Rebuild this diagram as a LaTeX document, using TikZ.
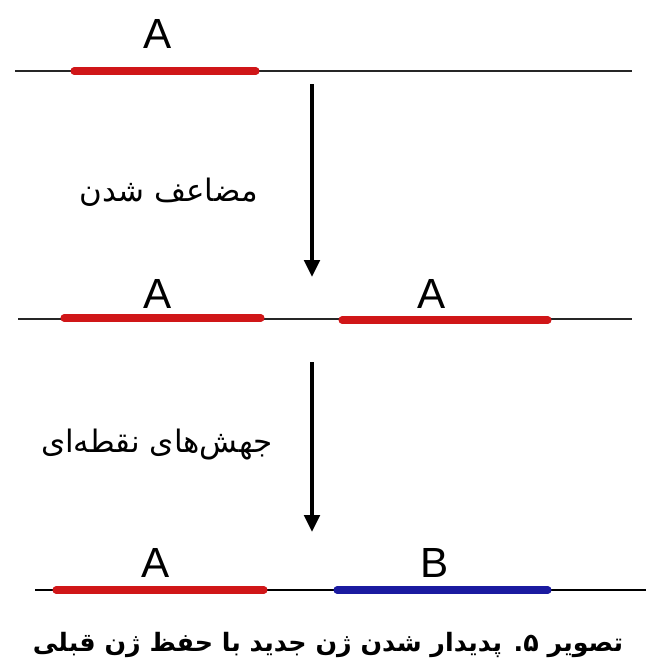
\documentclass[tikz,border=0pt]{standalone}
\usepackage{fontspec}
\setmainfont{Liberation Sans}
\newfontfamily\persianfont[Script=Arabic]{DejaVu Sans}
\TeXXeTstate=1
\usetikzlibrary{arrows.meta}

\definecolor{genered}{RGB}{208,22,24}
\definecolor{geneblue}{RGB}{26,26,160}

\begin{document}
\begin{tikzpicture}[
  x=0.025cm, y=-0.025cm,
  strand/.style={line width=1.3pt, black!85},
  gene/.style={line width=5pt, genered, line cap=round},
  newgene/.style={gene, geneblue},
  genename/.style={font=\fontsize{30}{34}\selectfont, inner sep=0pt},
  steplabel/.style={font=\persianfont\fontsize{22}{26}\selectfont, inner sep=0pt, anchor=east},
  >={Triangle[length=12pt,width=11pt]}
]
\useasboundingbox (0,0) rectangle (646,671);

% ancestral chromosome
\coordinate (s1l) at (15,71);   \coordinate (s1r) at (632,71);
\coordinate (a1l) at (74,71);   \coordinate (a1r) at (256,71);
\draw[strand] (s1l) -- (s1r);
\draw[gene] (a1l) -- (a1r);
\node[genename] (A1) at (158,34) {A};

% duplication
\coordinate (d1top) at (312,84); \coordinate (d1bot) at (312,277);
\draw[->, line width=2.6pt] (d1top) -- (d1bot);
\node[steplabel] (duplab) at (258,192) {\beginR مضاعف شدن\endR};

% after duplication
\coordinate (s2l) at (18,319);  \coordinate (s2r) at (632,319);
\coordinate (a2l) at (64,318);  \coordinate (a2r) at (261,318);
\coordinate (a3l) at (342,320); \coordinate (a3r) at (548,320);
\draw[strand] (s2l) -- (s2r);
\draw[gene] (a2l) -- (a2r);
\draw[gene] (a3l) -- (a3r);
\node[genename] (A2) at (158,294) {A};
\node[genename] (A3) at (432,294) {A};

% point mutations
\coordinate (d2top) at (312,362); \coordinate (d2bot) at (312,532);
\draw[->, line width=2.6pt] (d2top) -- (d2bot);
\node[steplabel] (mutlab) at (273,445) {\beginR جهش‌های نقطه‌ای\endR};

% new gene
\coordinate (s3l) at (35,590);  \coordinate (s3r) at (646,590);
\coordinate (a4l) at (56,590);  \coordinate (a4r) at (264,590);
\coordinate (b1l) at (337,590); \coordinate (b1r) at (548,590);
\draw[strand, line width=2pt, black] (s3l) -- (s3r);
\draw[gene] (a4l) -- (a4r);
\draw[newgene] (b1l) -- (b1r);
\node[genename] (A4) at (156,563) {A};
\node[genename] (B1) at (435,563) {B};

% caption
\node[font=\persianfont\bfseries\fontsize{18}{22}\selectfont, inner sep=0pt] (caption) at (328,645)
  {\beginR تصویر ۵. پدیدار شدن ژن جدید با حفظ ژن قبلی\endR};
\end{tikzpicture}
\end{document}
